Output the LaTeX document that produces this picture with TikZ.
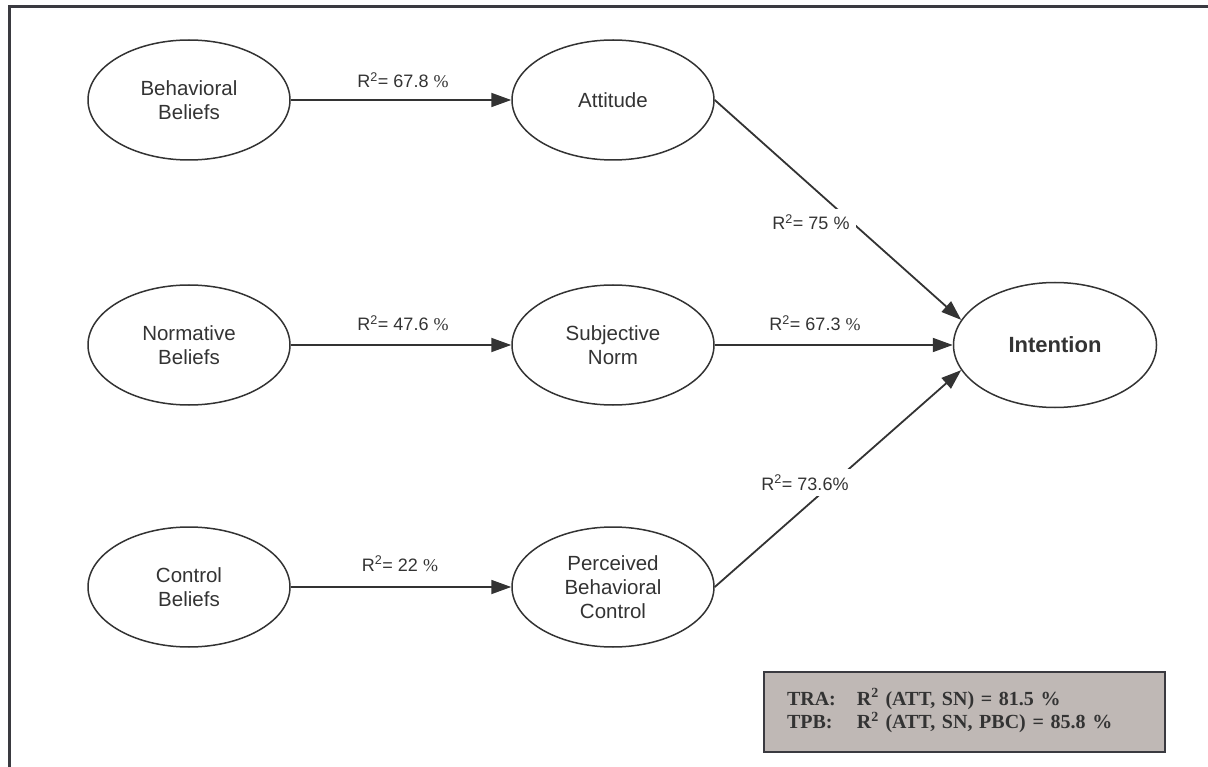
\documentclass[tikz,border=0pt]{standalone}
\usepackage{fontspec}
\setmainfont{Liberation Sans}
\newfontfamily\tnr{Liberation Serif}
\usetikzlibrary{shapes.geometric,arrows.meta}
\definecolor{ink}{RGB}{51,51,51}
\definecolor{boxfill}{RGB}{191,184,181}
\definecolor{framec}{RGB}{58,58,64}
\begin{document}
\begin{tikzpicture}[x=1pt,y=-1pt,
  oval/.style={ellipse, draw=ink, line width=1.5pt, minimum width=202pt, minimum height=120pt,
    inner sep=0pt, align=center, text=ink, font=\fontsize{20.5}{24}\selectfont},
  arr/.style={draw=ink, line width=1.8pt, -{Triangle[length=20pt,width=14pt]}},
  lab/.style={text=ink, font=\fontsize{18}{20}\selectfont, inner sep=0pt, anchor=base},
  cutlab/.style={lab, fill=white, inner sep=6pt},
  legend/.style={rectangle, draw=framec, line width=2.5pt, fill=boxfill, minimum width=401pt,
    minimum height=80pt, inner xsep=23pt, text width=355pt, align=left, text=ink,
    font=\tnr\bfseries\fontsize{20}{23}\selectfont}
]
\useasboundingbox (0,0) rectangle (1208,767);
\draw[framec, line width=3pt] (9,767) -- (9,7) -- (1208,7);

\node[oval] (bb) at (189,100) {Behavioral\\Beliefs};
\node[oval] (att) at (613,100) {Attitude};
\node[oval] (nb) at (189,345) {Normative\\Beliefs};
\node[oval] (sn) at (613,345) {Subjective\\Norm};
\node[oval] (cb) at (189,587) {Control\\Beliefs};
\node[oval] (pbc) at (613,587) {Perceived\\Behavioral\\Control};
\node[oval, minimum width=203pt, minimum height=125pt, font=\bfseries\fontsize{22}{26}\selectfont] (int) at (1055,345) {Intention};

\draw[arr] (bb.east) -- (att.west);
\draw[arr] (nb.east) -- (sn.west);
\draw[arr] (cb.east) -- (pbc.west);
\draw[arr] (att.east) -- (int.165);
\draw[arr] (sn.east) -- (int.west);
\draw[arr] (pbc.east) -- (int.195);

\node[lab] (l1) at (403,88) {R\textsuperscript{2}= 67.8 {\tnr\%}};
\node[lab] (l2) at (403,331) {R\textsuperscript{2}= 47.6 {\tnr\%}};
\node[lab] (l3) at (400,571) {R\textsuperscript{2}= 22 {\tnr\%}};
\node[lab] (l4) at (815,331) {R\textsuperscript{2}= 67.3 {\tnr\%}};
\node[cutlab] (l5) at (811,230) {R\textsuperscript{2}= 75 \%};
\node[cutlab] (l6) at (805,490) {R\textsuperscript{2}= 73.6\%};

\node[legend] (leg) at (964.5,712) {\begin{tabular}{@{}l@{\hspace{21pt}}l@{}}
TRA: & R\textsuperscript{2} (ATT, SN) = 81.5 \%\\
TPB: & R\textsuperscript{2} (ATT, SN, PBC) = 85.8 \%
\end{tabular}};
\end{tikzpicture}
\end{document}
